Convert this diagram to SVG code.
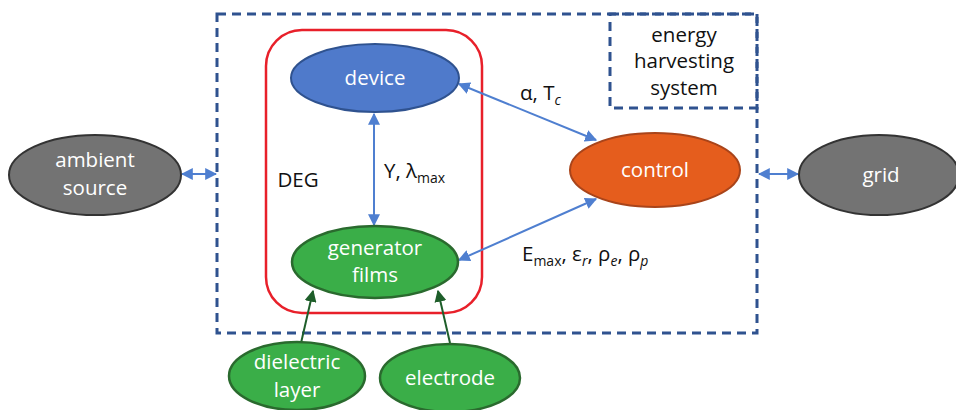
<svg xmlns="http://www.w3.org/2000/svg" width="956" height="410" viewBox="0 0 956 410">
<style>
text{font-family:"Open Sans","Liberation Sans",sans-serif;font-size:20.5px;text-anchor:middle}
.w{fill:#fff}
.k{fill:#111}
.dash{fill:none;stroke:#2F528F;stroke-width:3;stroke-dasharray:9 6}
.ba{stroke:#4F7FD0;stroke-width:2;fill:none;marker-start:url(#ab);marker-end:url(#ab)}
.ga{stroke:#1E5E2A;stroke-width:2;fill:none;marker-end:url(#ag)}
.gray{fill:#737373;stroke:#333;stroke-width:2}
.green{fill:#3AAE48;stroke:#2A6A2E;stroke-width:2.5}
.s{font-size:14px}
</style>
<defs>
<marker id="ab" viewBox="0 0 10 10" refX="9" refY="5" markerWidth="6" markerHeight="6" orient="auto-start-reverse" markerUnits="strokeWidth"><path d="M0,0 L10,5 L0,10 z" fill="#4F7FD0"/></marker>
<marker id="ag" viewBox="0 0 10 10" refX="9" refY="5" markerWidth="6" markerHeight="6" orient="auto" markerUnits="strokeWidth"><path d="M0,0 L10,5 L0,10 z" fill="#1E5E2A"/></marker>
</defs>
<rect width="956" height="410" fill="#fff"/>
<g id="system">
<rect class="dash" x="217" y="14" width="540" height="319"/>
<rect class="dash" x="610" y="14" width="147" height="94"/>
<text class="k" x="684" y="42">energy</text>
<text class="k" x="684" y="68">harvesting</text>
<text class="k" x="684" y="95">system</text>
</g>
<g id="deg">
<rect x="266" y="30" width="216" height="283" rx="36" fill="none" stroke="#E8202A" stroke-width="2.5"/>
<text class="k" x="298" y="187">DEG</text>
</g>
<g id="connectors">
<line class="ba" x1="182" y1="174" x2="216" y2="174"/>
<line class="ba" x1="759" y1="174" x2="798" y2="174"/>
<line class="ba" x1="459" y1="84" x2="596" y2="140"/>
<line class="ba" x1="374" y1="114" x2="374" y2="225"/>
<line class="ba" x1="459" y1="260" x2="596" y2="199"/>
<line class="ga" x1="301" y1="343" x2="313" y2="291"/>
<line class="ga" x1="450" y1="343" x2="438" y2="291"/>
<text class="k" x="520" y="100" style="text-anchor:start">α, T<tspan class="s" font-style="italic" dy="5">c</tspan></text>
<text class="k" x="384" y="178" style="text-anchor:start">Y, λ<tspan class="s" dy="5">max</tspan></text>
<text class="k" x="522" y="261" style="text-anchor:start">E<tspan class="s" dy="5">max</tspan><tspan dy="-5">, ε</tspan><tspan class="s" font-style="italic" dy="5">r</tspan><tspan dy="-5">,  ρ</tspan><tspan class="s" font-style="italic" dy="5">e</tspan><tspan dy="-5">, ρ</tspan><tspan class="s" font-style="italic" dy="5">p</tspan></text>
</g>
<g id="device">
<ellipse cx="375" cy="78" rx="84" ry="34" fill="#4F7ACB" stroke="#2F528F" stroke-width="2"/>
<text class="w" x="375" y="85">device</text>
</g>
<g id="generator">
<ellipse class="green" cx="375" cy="262" rx="83" ry="36"/>
<text class="w" x="375" y="255">generator</text>
<text class="w" x="375" y="282">films</text>
</g>
<g id="control">
<ellipse cx="655" cy="170" rx="85" ry="37" fill="#E55D1D" stroke="#A9441A" stroke-width="2"/>
<text class="w" x="655" y="177">control</text>
</g>
<g id="ambient">
<ellipse class="gray" cx="95" cy="175" rx="86" ry="40"/>
<text class="w" x="95" y="167">ambient</text>
<text class="w" x="95" y="195">source</text>
</g>
<g id="grid">
<ellipse class="gray" cx="879" cy="175" rx="80" ry="40"/>
<text class="w" x="881" y="182">grid</text>
</g>
<g id="dielectric">
<ellipse class="green" cx="297" cy="376" rx="68" ry="34"/>
<text class="w" x="297" y="369">dielectric</text>
<text class="w" x="297" y="397">layer</text>
</g>
<g id="electrode">
<ellipse class="green" cx="450" cy="378" rx="70" ry="34"/>
<text class="w" x="450" y="385">electrode</text>
</g>
</svg>
